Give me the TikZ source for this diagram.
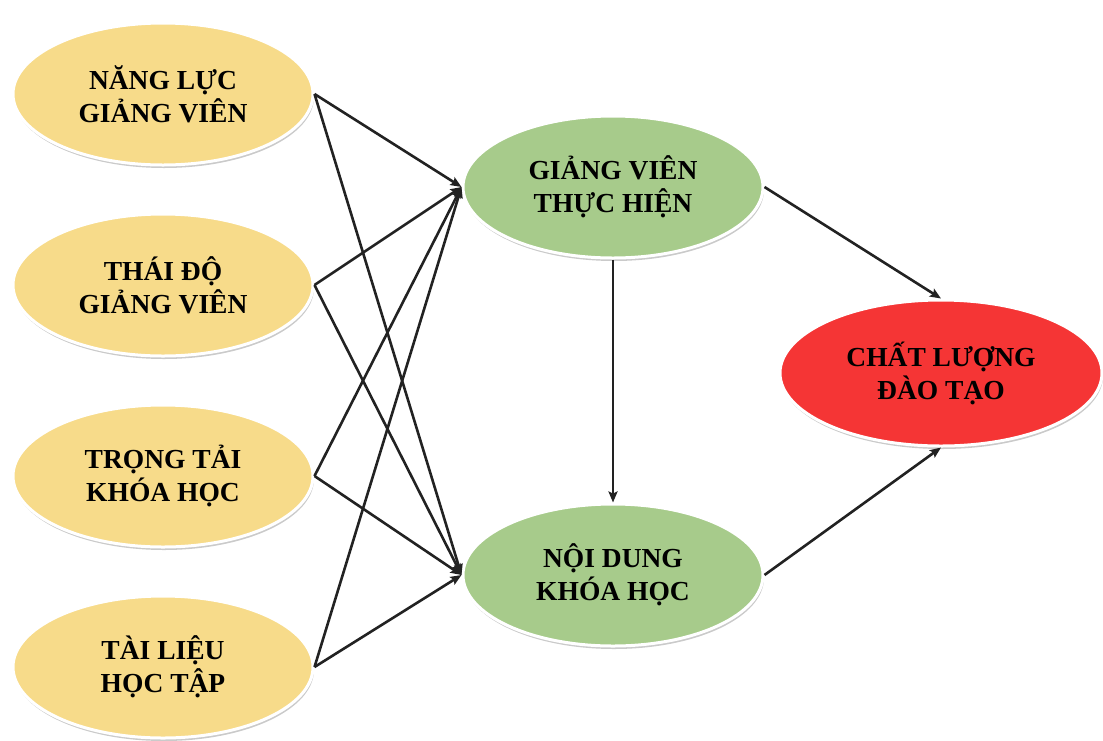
\documentclass[tikz,border=0pt]{standalone}
\usepackage{fontspec}
\setmainfont{Liberation Serif}
\usetikzlibrary{shapes.geometric,shadows,arrows.meta}
\definecolor{yellowfill}{HTML}{F7DB8A}
\definecolor{greenfill}{HTML}{A7CB8B}
\definecolor{redfill}{HTML}{F53535}
\definecolor{arrowcol}{HTML}{222222}
\tikzset{
  bubble/.style={ellipse, draw=white, line width=3pt, inner sep=0pt,
    minimum width=300pt, minimum height=142pt, align=center,
    font=\fontsize{27.5}{33}\selectfont\bfseries,
    drop shadow={shadow xshift=1pt, shadow yshift=-3pt, opacity=0.35, fill=black!60}},
  factor/.style={bubble, fill=yellowfill},
  middle/.style={bubble, fill=greenfill},
  outcome/.style={bubble, fill=redfill, minimum width=322pt, minimum height=146pt},
  link/.style={draw=arrowcol, line width=2.6pt, -{Stealth[length=11pt,width=9pt,inset=2pt]}}
}
\begin{document}
\begin{tikzpicture}[x=1pt, y=-1pt]
  \useasboundingbox (0,0) rectangle (1103,740);
  % input factors
  \node[factor] (nl) at (163,94)  {NĂNG LỰC\\GIẢNG VIÊN};
  \node[factor] (td) at (163,285) {THÁI ĐỘ\\GIẢNG VIÊN};
  \node[factor] (tt) at (163,476) {TRỌNG TẢI\\KHÓA HỌC};
  \node[factor] (tl) at (163,667) {TÀI LIỆU\\HỌC TẬP};
  % mediators
  \node[middle] (gv) at (613,187) {GIẢNG VIÊN\\THỰC HIỆN};
  \node[middle] (nd) at (613,575) {NỘI DUNG\\KHÓA HỌC};
  % outcome
  \node[outcome] (cl) at (941,373) {CHẤT LƯỢNG\\ĐÀO TẠO};
  % connections
  \foreach \f in {nl,td,tt,tl}{
    \draw[link] (\f.east) -- (gv.west);
    \draw[link] (\f.east) -- (nd.west);
  }
  \draw[link] (gv.south) -- (nd.north);
  \draw[link] (gv.east) -- (cl.north);
  \draw[link] (nd.east) -- (cl.south);
\end{tikzpicture}
\end{document}
